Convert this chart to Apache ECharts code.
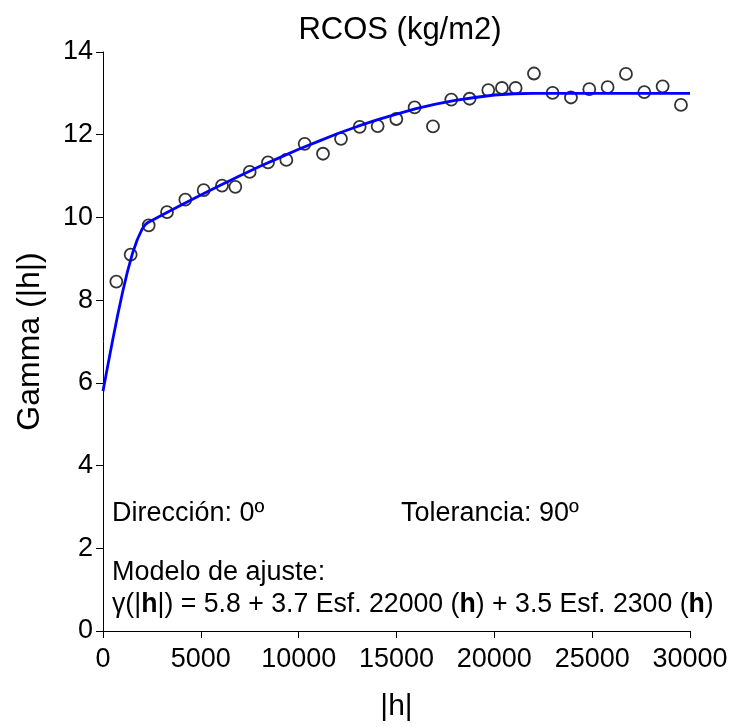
<!DOCTYPE html>
<html>
<head>
<meta charset="utf-8">
<script src="https://cdn.jsdelivr.net/npm/echarts@6/dist/echarts.min.js"></script>
<style>html,body{margin:0;padding:0;background:#fff;}#c{width:732px;height:727px;}</style>
</head>
<body>
<div id="c"></div>
<script>
// Experimental variogram points (lag |h|, gamma)
var lagH = [681,1414,2334,3271,4208,5145,6082,6763,7496,8433,9370,10307,11244,12164,13118,14037,14991,15926,16864,17800,18737,19691,20389,21088,22025,22979,23916,24853,25790,26727,27664,28601,29538];
var gammaVals = [8.45,9.10,9.81,10.13,10.43,10.66,10.77,10.74,11.10,11.33,11.39,11.78,11.54,11.90,12.19,12.21,12.38,12.66,12.20,12.85,12.87,13.08,13.13,13.13,13.48,13.01,12.90,13.10,13.15,13.47,13.03,13.17,12.72];
// Fitted model curve
var modelH = [0,250,500,750,1000,1250,1500,1750,2000,2150,2300,3000,4000,5000,6000,7000,8000,9000,10000,11000,12000,13000,14000,15000,16000,17000,18000,19000,20000,21000,22000,30000];
var modelGamma = [5.80,6.43,7.05,7.64,8.19,8.69,9.12,9.46,9.72,9.82,9.88,10.05,10.30,10.54,10.78,11.01,11.23,11.44,11.65,11.84,12.03,12.20,12.36,12.50,12.63,12.74,12.83,12.90,12.96,12.99,13.00,13.00];
var xTicks = [0,5000,10000,15000,20000,25000,30000];
var yTicks = [0,2,4,6,8,10,12,14];

var FONT = 'Arial, "Liberation Sans", sans-serif';
var chart = echarts.init(document.getElementById('c'), null, {renderer:'canvas'});
var pts = lagH.map(function(h,i){return [h, gammaVals[i]];});
var model = modelH.map(function(h,i){return [h, modelGamma[i]];});

chart.setOption({
  animation:false,
  backgroundColor:'#fff',
  title:{text:'RCOS (kg/m2)', left:395, top:10, textAlign:'center',
    textStyle:{fontFamily:FONT, fontSize:31, fontWeight:'normal', color:'#000'}},
  grid:{left:103, right:42, top:52, bottom:91, containLabel:false},
  xAxis:{type:'value', min:0, max:30000, interval:5000,
    name:'|h|', nameLocation:'middle', nameGap:61,
    nameTextStyle:{fontFamily:FONT, fontSize:30, color:'#000'},
    axisLine:{show:true, onZero:false, lineStyle:{color:'#000', width:1}},
    axisTick:{show:true, length:7, lineStyle:{color:'#000', width:1}},
    axisLabel:{margin:15, fontFamily:FONT, fontSize:27, color:'#000',
      formatter:function(v){return xTicks.indexOf(v)>=0 ? String(v) : '';}},
    splitLine:{show:false}},
  yAxis:{type:'value', min:0, max:14, interval:2,
    name:'Gamma (|h|)', nameLocation:'middle', nameGap:57,
    nameTextStyle:{fontFamily:FONT, fontSize:32, color:'#000'},
    axisLine:{show:true, onZero:false, lineStyle:{color:'#000', width:1}},
    axisTick:{show:true, length:7, lineStyle:{color:'#000', width:1}},
    axisLabel:{margin:10, fontFamily:FONT, fontSize:27, color:'#000',
      formatter:function(v){return yTicks.indexOf(v)>=0 ? String(v) : '';}},
    splitLine:{show:false}},
  series:[
    {type:'scatter', data:pts, symbol:'circle', symbolSize:12, z:2,
      itemStyle:{color:'#fff', borderColor:'#000', borderWidth:1.8}},
    {type:'line', data:model, showSymbol:false, smooth:false, z:3,
      lineStyle:{color:'#0000FF', width:2.8}}
  ],
  graphic:[
    {type:'text', x:112, y:514, style:{text:'Dirección: 0º', font:'27px '+FONT, fill:'#000', verticalAlign:'middle', align:'left'}},
    {type:'text', x:401, y:514, style:{text:'Tolerancia: 90º', font:'27px '+FONT, fill:'#000', verticalAlign:'middle', align:'left'}},
    {type:'text', x:112, y:573, style:{text:'Modelo de ajuste:', font:'27px '+FONT, fill:'#000', verticalAlign:'middle', align:'left'}},
    {type:'text', x:112, y:605, scaleX:0.988, style:{
      text:'{n|γ(|}{b|h}{n||) = 5.8 + 3.7 Esf. 22000 (}{b|h}{n|) + 3.5 Esf. 2300 (}{b|h}{n|)}',
      verticalAlign:'middle', align:'left', fill:'#000',
      rich:{n:{fontFamily:FONT, fontSize:27, color:'#000'}, b:{fontFamily:FONT, fontSize:27, fontWeight:'bold', color:'#000'}}}}
  ]
});
</script>
</body>
</html>
